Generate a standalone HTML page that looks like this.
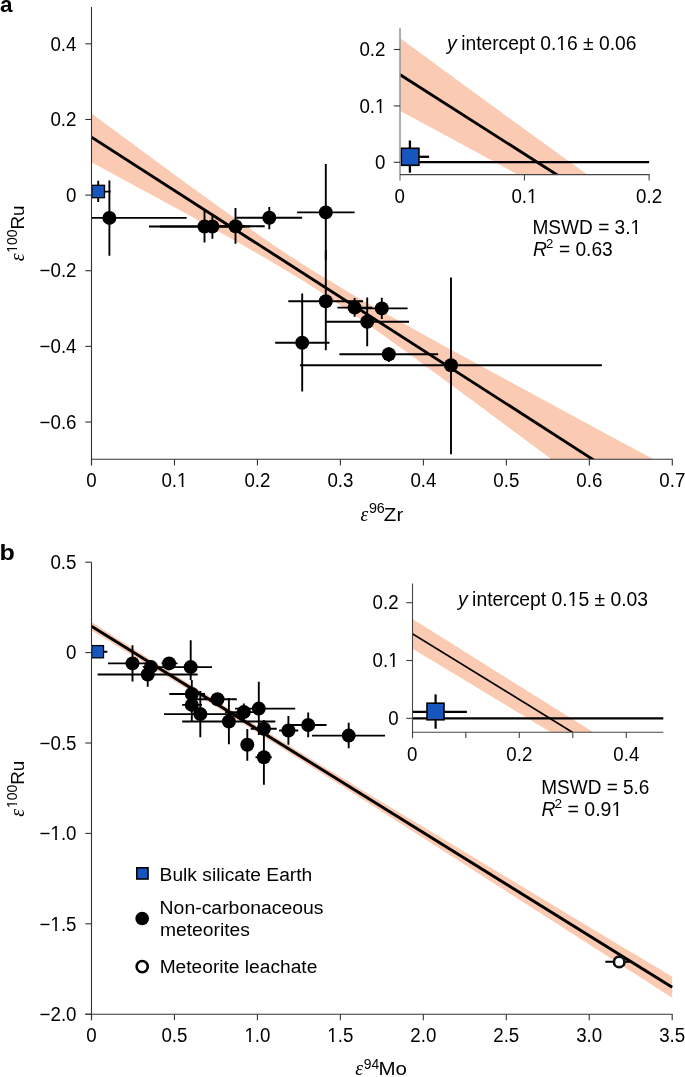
<!DOCTYPE html>
<html><head><meta charset="utf-8"><style>
html,body{margin:0;padding:0;background:#fff;width:685px;height:1077px;overflow:hidden;}
svg{display:block;will-change:transform;}
</style></head><body>
<svg width="685" height="1077" viewBox="0 0 685 1077">
<rect width="685" height="1077" fill="#fff"/>
<defs>
<clipPath id="ca"><rect x="91.5" y="7" width="580.8" height="452.3"/></clipPath>
<clipPath id="cai"><rect x="399.8" y="28" width="249.3" height="146.5"/></clipPath>
<clipPath id="cb"><rect x="91.5" y="562" width="580.7" height="451.5"/></clipPath>
<clipPath id="cbi"><rect x="412.3" y="583.5" width="251" height="148.5"/></clipPath>
</defs>
<path d="M91.50,113.40 L95.65,116.48 L99.80,119.56 L103.95,122.63 L108.09,125.71 L112.24,128.78 L116.39,131.85 L120.54,134.92 L124.69,137.99 L128.84,141.05 L132.99,144.12 L137.13,147.18 L141.28,150.24 L145.43,153.30 L149.58,156.36 L153.73,159.41 L157.88,162.46 L162.03,165.51 L166.17,168.56 L170.32,171.60 L174.47,174.64 L178.62,177.67 L182.77,180.70 L186.92,183.73 L191.07,186.75 L195.21,189.77 L199.36,192.78 L203.51,195.78 L207.66,198.78 L211.81,201.77 L215.96,204.76 L220.11,207.74 L224.25,210.71 L228.40,213.67 L232.55,216.62 L236.70,219.55 L240.85,222.48 L245.00,225.40 L249.15,228.30 L253.29,231.19 L257.44,234.06 L261.59,236.92 L265.74,239.76 L269.89,242.58 L274.04,245.38 L278.19,248.17 L282.33,250.93 L286.48,253.67 L290.63,256.39 L294.78,259.09 L298.93,261.76 L303.08,264.41 L307.23,267.04 L311.37,269.65 L315.52,272.23 L319.67,274.80 L323.82,277.34 L327.97,279.87 L332.12,282.37 L336.27,284.86 L340.41,287.33 L344.56,289.78 L348.71,292.22 L352.86,294.65 L357.01,297.06 L361.16,299.46 L365.31,301.85 L369.45,304.23 L373.60,306.60 L377.75,308.96 L381.90,311.31 L386.05,313.66 L390.20,315.99 L394.35,318.32 L398.49,320.65 L402.64,322.97 L406.79,325.28 L410.94,327.59 L415.09,329.89 L419.24,332.19 L423.39,334.49 L427.53,336.78 L431.68,339.07 L435.83,341.35 L439.98,343.64 L444.13,345.92 L448.28,348.19 L452.43,350.47 L456.57,352.74 L460.72,355.01 L464.87,357.28 L469.02,359.54 L473.17,361.81 L477.32,364.07 L481.47,366.33 L485.61,368.59 L489.76,370.85 L493.91,373.10 L498.06,375.36 L502.21,377.61 L506.36,379.87 L510.51,382.12 L514.65,384.37 L518.80,386.62 L522.95,388.87 L527.10,391.12 L531.25,393.36 L535.40,395.61 L539.55,397.85 L543.69,400.10 L547.84,402.34 L551.99,404.59 L556.14,406.83 L560.29,409.07 L564.44,411.31 L568.59,413.55 L572.73,415.79 L576.88,418.03 L581.03,420.27 L585.18,422.51 L589.33,424.75 L593.48,426.99 L597.63,429.23 L601.77,431.46 L605.92,433.70 L610.07,435.94 L614.22,438.17 L618.37,440.41 L622.52,442.64 L626.67,444.88 L630.81,447.11 L634.96,449.35 L639.11,451.58 L643.26,453.81 L647.41,456.05 L651.56,458.28 L655.71,460.51 L659.85,462.75 L664.00,464.98 L668.15,467.21 L672.30,469.44 L672.30,549.49 L668.15,546.39 L664.00,543.29 L659.85,540.19 L655.71,537.09 L651.56,533.99 L647.41,530.89 L643.26,527.79 L639.11,524.69 L634.96,521.59 L630.81,518.49 L626.67,515.39 L622.52,512.29 L618.37,509.19 L614.22,506.10 L610.07,503.00 L605.92,499.90 L601.77,496.81 L597.63,493.71 L593.48,490.61 L589.33,487.52 L585.18,484.42 L581.03,481.33 L576.88,478.23 L572.73,475.14 L568.59,472.04 L564.44,468.95 L560.29,465.86 L556.14,462.77 L551.99,459.67 L547.84,456.58 L543.69,453.49 L539.55,450.40 L535.40,447.32 L531.25,444.23 L527.10,441.14 L522.95,438.05 L518.80,434.97 L514.65,431.88 L510.51,428.80 L506.36,425.72 L502.21,422.63 L498.06,419.55 L493.91,416.47 L489.76,413.40 L485.61,410.32 L481.47,407.24 L477.32,404.17 L473.17,401.10 L469.02,398.03 L464.87,394.96 L460.72,391.89 L456.57,388.83 L452.43,385.77 L448.28,382.71 L444.13,379.65 L439.98,376.60 L435.83,373.55 L431.68,370.50 L427.53,367.45 L423.39,364.41 L419.24,361.38 L415.09,358.35 L410.94,355.32 L406.79,352.30 L402.64,349.28 L398.49,346.28 L394.35,343.27 L390.20,340.28 L386.05,337.29 L381.90,334.32 L377.75,331.35 L373.60,328.39 L369.45,325.45 L365.31,322.51 L361.16,319.59 L357.01,316.69 L352.86,313.80 L348.71,310.93 L344.56,308.08 L340.41,305.25 L336.27,302.44 L332.12,299.65 L327.97,296.89 L323.82,294.15 L319.67,291.44 L315.52,288.75 L311.37,286.08 L307.23,283.45 L303.08,280.84 L298.93,278.25 L294.78,275.69 L290.63,273.15 L286.48,270.63 L282.33,268.14 L278.19,265.66 L274.04,263.21 L269.89,260.77 L265.74,258.34 L261.59,255.93 L257.44,253.54 L253.29,251.15 L249.15,248.78 L245.00,246.42 L240.85,244.07 L236.70,241.73 L232.55,239.39 L228.40,237.06 L224.25,234.74 L220.11,232.43 L215.96,230.12 L211.81,227.82 L207.66,225.52 L203.51,223.22 L199.36,220.93 L195.21,218.65 L191.07,216.37 L186.92,214.09 L182.77,211.81 L178.62,209.54 L174.47,207.26 L170.32,205.00 L166.17,202.73 L162.03,200.47 L157.88,198.20 L153.73,195.94 L149.58,193.68 L145.43,191.43 L141.28,189.17 L137.13,186.92 L132.99,184.66 L128.84,182.41 L124.69,180.16 L120.54,177.91 L116.39,175.67 L112.24,173.42 L108.09,171.17 L103.95,168.93 L99.80,166.68 L95.65,164.44 L91.50,162.20 Z" fill="#fbcab2" clip-path="url(#ca)"/>
<g clip-path="url(#ca)">
<line x1="91.50" y1="137.20" x2="594.00" y2="460.10" stroke="#000" stroke-width="2.9" stroke-linecap="butt"/>
</g>
<g clip-path="url(#ca)">
<line x1="80.00" y1="191.60" x2="110.70" y2="191.60" stroke="#000" stroke-width="1.9" stroke-linecap="butt"/>
<line x1="98.20" y1="180.80" x2="98.20" y2="202.00" stroke="#000" stroke-width="1.9" stroke-linecap="butt"/>
<line x1="80.00" y1="217.90" x2="186.60" y2="217.90" stroke="#000" stroke-width="1.9" stroke-linecap="butt"/>
<line x1="109.40" y1="180.50" x2="109.40" y2="255.70" stroke="#000" stroke-width="1.9" stroke-linecap="butt"/>
<line x1="149.00" y1="226.50" x2="245.00" y2="226.50" stroke="#000" stroke-width="1.9" stroke-linecap="butt"/>
<line x1="204.50" y1="210.20" x2="204.50" y2="242.60" stroke="#000" stroke-width="1.9" stroke-linecap="butt"/>
<line x1="160.00" y1="226.50" x2="250.00" y2="226.50" stroke="#000" stroke-width="1.9" stroke-linecap="butt"/>
<line x1="212.40" y1="213.90" x2="212.40" y2="238.70" stroke="#000" stroke-width="1.9" stroke-linecap="butt"/>
<line x1="200.00" y1="226.30" x2="264.70" y2="226.30" stroke="#000" stroke-width="1.9" stroke-linecap="butt"/>
<line x1="235.50" y1="208.00" x2="235.50" y2="243.80" stroke="#000" stroke-width="1.9" stroke-linecap="butt"/>
<line x1="236.20" y1="217.80" x2="302.10" y2="217.80" stroke="#000" stroke-width="1.9" stroke-linecap="butt"/>
<line x1="269.30" y1="207.00" x2="269.30" y2="229.20" stroke="#000" stroke-width="1.9" stroke-linecap="butt"/>
<line x1="297.10" y1="212.40" x2="354.60" y2="212.40" stroke="#000" stroke-width="1.9" stroke-linecap="butt"/>
<line x1="325.80" y1="164.10" x2="325.80" y2="260.00" stroke="#000" stroke-width="1.9" stroke-linecap="butt"/>
<line x1="288.30" y1="301.30" x2="363.00" y2="301.30" stroke="#000" stroke-width="1.9" stroke-linecap="butt"/>
<line x1="325.80" y1="250.00" x2="325.80" y2="350.30" stroke="#000" stroke-width="1.9" stroke-linecap="butt"/>
<line x1="275.20" y1="342.80" x2="329.50" y2="342.80" stroke="#000" stroke-width="1.9" stroke-linecap="butt"/>
<line x1="302.20" y1="293.60" x2="302.20" y2="391.40" stroke="#000" stroke-width="1.9" stroke-linecap="butt"/>
<line x1="337.50" y1="307.60" x2="372.00" y2="307.60" stroke="#000" stroke-width="1.9" stroke-linecap="butt"/>
<line x1="354.60" y1="298.10" x2="354.60" y2="316.80" stroke="#000" stroke-width="1.9" stroke-linecap="butt"/>
<line x1="360.00" y1="308.40" x2="407.60" y2="308.40" stroke="#000" stroke-width="1.9" stroke-linecap="butt"/>
<line x1="381.80" y1="297.80" x2="381.80" y2="318.90" stroke="#000" stroke-width="1.9" stroke-linecap="butt"/>
<line x1="325.80" y1="321.80" x2="409.00" y2="321.80" stroke="#000" stroke-width="1.9" stroke-linecap="butt"/>
<line x1="367.20" y1="297.40" x2="367.20" y2="346.20" stroke="#000" stroke-width="1.9" stroke-linecap="butt"/>
<line x1="339.40" y1="354.30" x2="438.10" y2="354.30" stroke="#000" stroke-width="1.9" stroke-linecap="butt"/>
<line x1="388.80" y1="347.20" x2="388.80" y2="362.10" stroke="#000" stroke-width="1.9" stroke-linecap="butt"/>
<line x1="300.00" y1="365.30" x2="601.90" y2="365.30" stroke="#000" stroke-width="1.9" stroke-linecap="butt"/>
<line x1="451.00" y1="277.50" x2="451.00" y2="454.20" stroke="#000" stroke-width="1.9" stroke-linecap="butt"/>
<circle cx="109.40" cy="217.90" r="7.0" fill="#000" stroke="none" stroke-width="0"/>
<circle cx="204.50" cy="226.50" r="7.0" fill="#000" stroke="none" stroke-width="0"/>
<circle cx="212.40" cy="226.50" r="7.0" fill="#000" stroke="none" stroke-width="0"/>
<circle cx="235.50" cy="226.30" r="7.0" fill="#000" stroke="none" stroke-width="0"/>
<circle cx="269.30" cy="217.80" r="7.0" fill="#000" stroke="none" stroke-width="0"/>
<circle cx="325.80" cy="212.40" r="7.0" fill="#000" stroke="none" stroke-width="0"/>
<circle cx="325.80" cy="301.30" r="7.0" fill="#000" stroke="none" stroke-width="0"/>
<circle cx="302.20" cy="342.80" r="7.0" fill="#000" stroke="none" stroke-width="0"/>
<circle cx="354.60" cy="307.60" r="7.0" fill="#000" stroke="none" stroke-width="0"/>
<circle cx="381.80" cy="308.40" r="7.0" fill="#000" stroke="none" stroke-width="0"/>
<circle cx="367.20" cy="321.80" r="7.0" fill="#000" stroke="none" stroke-width="0"/>
<circle cx="388.80" cy="354.30" r="7.0" fill="#000" stroke="none" stroke-width="0"/>
<circle cx="451.00" cy="365.30" r="7.0" fill="#000" stroke="none" stroke-width="0"/>
</g>
<rect x="91.90" y="185.30" width="12.60" height="12.40" fill="#1756be" stroke="#000" stroke-width="1.3"/>
<line x1="91.50" y1="7.00" x2="91.50" y2="465.40" stroke="#333" stroke-width="1.1" stroke-linecap="butt"/>
<line x1="91.50" y1="459.30" x2="672.80" y2="459.30" stroke="#333" stroke-width="1.1" stroke-linecap="butt"/>
<line x1="85.30" y1="43.82" x2="91.50" y2="43.82" stroke="#333" stroke-width="1.1" stroke-linecap="butt"/>
<text x="76.50" y="50.57" font-family='"Liberation Sans", sans-serif' font-size="19.6" text-anchor="end" font-weight="normal" fill="#000" textLength="26.02" lengthAdjust="spacingAndGlyphs">0.4</text>
<line x1="85.30" y1="119.46" x2="91.50" y2="119.46" stroke="#333" stroke-width="1.1" stroke-linecap="butt"/>
<text x="76.50" y="126.21" font-family='"Liberation Sans", sans-serif' font-size="19.6" text-anchor="end" font-weight="normal" fill="#000" textLength="26.02" lengthAdjust="spacingAndGlyphs">0.2</text>
<line x1="85.30" y1="195.10" x2="91.50" y2="195.10" stroke="#333" stroke-width="1.1" stroke-linecap="butt"/>
<text x="76.50" y="201.85" font-family='"Liberation Sans", sans-serif' font-size="19.6" text-anchor="end" font-weight="normal" fill="#000" textLength="10.41" lengthAdjust="spacingAndGlyphs">0</text>
<line x1="85.30" y1="270.74" x2="91.50" y2="270.74" stroke="#333" stroke-width="1.1" stroke-linecap="butt"/>
<text x="76.50" y="277.49" font-family='"Liberation Sans", sans-serif' font-size="19.6" text-anchor="end" font-weight="normal" fill="#000" textLength="36.95" lengthAdjust="spacingAndGlyphs">−0.2</text>
<line x1="85.30" y1="346.38" x2="91.50" y2="346.38" stroke="#333" stroke-width="1.1" stroke-linecap="butt"/>
<text x="76.50" y="353.13" font-family='"Liberation Sans", sans-serif' font-size="19.6" text-anchor="end" font-weight="normal" fill="#000" textLength="36.95" lengthAdjust="spacingAndGlyphs">−0.4</text>
<line x1="85.30" y1="422.02" x2="91.50" y2="422.02" stroke="#333" stroke-width="1.1" stroke-linecap="butt"/>
<text x="76.50" y="428.77" font-family='"Liberation Sans", sans-serif' font-size="19.6" text-anchor="end" font-weight="normal" fill="#000" textLength="36.95" lengthAdjust="spacingAndGlyphs">−0.6</text>
<line x1="91.50" y1="459.30" x2="91.50" y2="465.40" stroke="#333" stroke-width="1.1" stroke-linecap="butt"/>
<text x="91.50" y="487.00" font-family='"Liberation Sans", sans-serif' font-size="19.6" text-anchor="middle" font-weight="normal" fill="#000" textLength="10.41" lengthAdjust="spacingAndGlyphs">0</text>
<line x1="174.47" y1="459.30" x2="174.47" y2="465.40" stroke="#333" stroke-width="1.1" stroke-linecap="butt"/>
<text x="174.47" y="487.00" font-family='"Liberation Sans", sans-serif' font-size="19.6" text-anchor="middle" font-weight="normal" fill="#000" textLength="26.02" lengthAdjust="spacingAndGlyphs">0.1</text>
<rect x="177.44" y="484.74" width="4.29" height="3.06" fill="#fff"/>
<rect x="183.48" y="484.74" width="4.14" height="3.06" fill="#fff"/>
<line x1="257.44" y1="459.30" x2="257.44" y2="465.40" stroke="#333" stroke-width="1.1" stroke-linecap="butt"/>
<text x="257.44" y="487.00" font-family='"Liberation Sans", sans-serif' font-size="19.6" text-anchor="middle" font-weight="normal" fill="#000" textLength="26.02" lengthAdjust="spacingAndGlyphs">0.2</text>
<line x1="340.41" y1="459.30" x2="340.41" y2="465.40" stroke="#333" stroke-width="1.1" stroke-linecap="butt"/>
<text x="340.41" y="487.00" font-family='"Liberation Sans", sans-serif' font-size="19.6" text-anchor="middle" font-weight="normal" fill="#000" textLength="26.02" lengthAdjust="spacingAndGlyphs">0.3</text>
<line x1="423.39" y1="459.30" x2="423.39" y2="465.40" stroke="#333" stroke-width="1.1" stroke-linecap="butt"/>
<text x="423.39" y="487.00" font-family='"Liberation Sans", sans-serif' font-size="19.6" text-anchor="middle" font-weight="normal" fill="#000" textLength="26.02" lengthAdjust="spacingAndGlyphs">0.4</text>
<line x1="506.36" y1="459.30" x2="506.36" y2="465.40" stroke="#333" stroke-width="1.1" stroke-linecap="butt"/>
<text x="506.36" y="487.00" font-family='"Liberation Sans", sans-serif' font-size="19.6" text-anchor="middle" font-weight="normal" fill="#000" textLength="26.02" lengthAdjust="spacingAndGlyphs">0.5</text>
<line x1="589.33" y1="459.30" x2="589.33" y2="465.40" stroke="#333" stroke-width="1.1" stroke-linecap="butt"/>
<text x="589.33" y="487.00" font-family='"Liberation Sans", sans-serif' font-size="19.6" text-anchor="middle" font-weight="normal" fill="#000" textLength="26.02" lengthAdjust="spacingAndGlyphs">0.6</text>
<line x1="672.30" y1="459.30" x2="672.30" y2="465.40" stroke="#333" stroke-width="1.1" stroke-linecap="butt"/>
<text x="672.30" y="487.00" font-family='"Liberation Sans", sans-serif' font-size="19.6" text-anchor="middle" font-weight="normal" fill="#000" textLength="26.02" lengthAdjust="spacingAndGlyphs">0.7</text>
<text x="360.48" y="521.20" font-family='"Liberation Serif", serif' font-size="20.5" font-weight="normal" font-style="italic" textLength="7.74" lengthAdjust="spacingAndGlyphs">ε</text>
<text x="368.93" y="513.40" font-family='"Liberation Sans", sans-serif' font-size="14.3" font-weight="normal" textLength="15.90" lengthAdjust="spacingAndGlyphs">96</text>
<text x="383.85" y="521.10" font-family='"Liberation Sans", sans-serif' font-size="19.2" font-weight="normal" textLength="19.39" lengthAdjust="spacingAndGlyphs">Zr</text>
<g transform="rotate(-90)">
<text x="-261.33" y="24.10" font-family='"Liberation Serif", serif' font-size="20.5" font-weight="normal" font-style="italic" textLength="7.85" lengthAdjust="spacingAndGlyphs">ε</text>
<text x="-252.74" y="16.60" font-family='"Liberation Sans", sans-serif' font-size="14.3" font-weight="normal" textLength="23.18" lengthAdjust="spacingAndGlyphs">100</text>
<rect x="-252.72" y="14.73" width="3.43" height="2.67" fill="#fff"/>
<rect x="-247.97" y="14.73" width="3.32" height="2.67" fill="#fff"/>
<text x="-229.44" y="24.10" font-family='"Liberation Sans", sans-serif' font-size="18.8" font-weight="normal" textLength="23.99" lengthAdjust="spacingAndGlyphs">Ru</text>
</g>
<text x="-0.06" y="11.80" font-family='"Liberation Sans", sans-serif' font-size="22" font-weight="bold" textLength="12.52" lengthAdjust="spacingAndGlyphs">a</text>
<path d="M399.80,37.90 L402.29,39.74 L404.79,41.57 L407.28,43.41 L409.77,45.24 L412.26,47.07 L414.76,48.91 L417.25,50.74 L419.74,52.57 L422.24,54.40 L424.73,56.24 L427.22,58.07 L429.72,59.90 L432.21,61.73 L434.70,63.56 L437.19,65.39 L439.69,67.22 L442.18,69.05 L444.67,70.88 L447.17,72.71 L449.66,74.54 L452.15,76.37 L454.65,78.19 L457.14,80.02 L459.63,81.85 L462.12,83.67 L464.62,85.50 L467.11,87.33 L469.60,89.15 L472.10,90.98 L474.59,92.80 L477.08,94.62 L479.58,96.45 L482.07,98.27 L484.56,100.09 L487.06,101.91 L489.55,103.73 L492.04,105.55 L494.53,107.37 L497.03,109.19 L499.52,111.01 L502.01,112.83 L504.51,114.65 L507.00,116.46 L509.49,118.28 L511.99,120.09 L514.48,121.91 L516.97,123.72 L519.46,125.53 L521.96,127.35 L524.45,129.16 L526.94,130.97 L529.44,132.78 L531.93,134.59 L534.42,136.40 L536.91,138.20 L539.41,140.01 L541.90,141.81 L544.39,143.62 L546.89,145.42 L549.38,147.22 L551.87,149.02 L554.37,150.82 L556.86,152.62 L559.35,154.42 L561.85,156.22 L564.34,158.01 L566.83,159.80 L569.32,161.60 L571.82,163.39 L574.31,165.18 L576.80,166.97 L579.30,168.75 L581.79,170.54 L584.28,172.32 L586.77,174.10 L589.27,175.88 L591.76,177.66 L594.25,179.44 L596.75,181.22 L599.24,182.99 L601.73,184.76 L604.23,186.53 L606.72,188.30 L609.21,190.06 L611.71,191.83 L614.20,193.59 L616.69,195.35 L619.18,197.10 L621.68,198.86 L624.17,200.61 L626.66,202.36 L629.16,204.10 L631.65,205.85 L634.14,207.59 L636.63,209.32 L639.13,211.06 L641.62,212.79 L644.11,214.52 L646.61,216.25 L649.10,217.97 L651.59,219.69 L654.09,221.40 L656.58,223.11 L659.07,224.82 L661.57,226.53 L664.06,228.23 L666.55,229.93 L669.04,231.62 L671.54,233.31 L674.03,234.99 L676.52,236.68 L679.02,238.35 L681.51,240.02 L684.00,241.69 L686.50,243.36 L688.99,245.02 L691.48,246.67 L693.97,248.32 L696.47,249.96 L698.96,251.60 L698.96,277.86 L696.47,276.33 L693.97,274.80 L691.48,273.27 L688.99,271.75 L686.50,270.24 L684.00,268.73 L681.51,267.22 L679.02,265.72 L676.52,264.22 L674.03,262.73 L671.54,261.25 L669.04,259.76 L666.55,258.29 L664.06,256.81 L661.57,255.34 L659.07,253.88 L656.58,252.41 L654.09,250.95 L651.59,249.50 L649.10,248.05 L646.61,246.60 L644.11,245.16 L641.62,243.71 L639.13,242.28 L636.63,240.84 L634.14,239.41 L631.65,237.98 L629.16,236.55 L626.66,235.13 L624.17,233.71 L621.68,232.29 L619.18,230.87 L616.69,229.46 L614.20,228.04 L611.71,226.63 L609.21,225.23 L606.72,223.82 L604.23,222.42 L601.73,221.02 L599.24,219.62 L596.75,218.22 L594.25,216.82 L591.76,215.43 L589.27,214.03 L586.77,212.64 L584.28,211.25 L581.79,209.87 L579.30,208.48 L576.80,207.09 L574.31,205.71 L571.82,204.33 L569.32,202.94 L566.83,201.56 L564.34,200.19 L561.85,198.81 L559.35,197.43 L556.86,196.06 L554.37,194.68 L551.87,193.31 L549.38,191.94 L546.89,190.56 L544.39,189.19 L541.90,187.82 L539.41,186.46 L536.91,185.09 L534.42,183.72 L531.93,182.35 L529.44,180.99 L526.94,179.62 L524.45,178.26 L521.96,176.90 L519.46,175.53 L516.97,174.17 L514.48,172.81 L511.99,171.45 L509.49,170.09 L507.00,168.73 L504.51,167.37 L502.01,166.02 L499.52,164.66 L497.03,163.30 L494.53,161.95 L492.04,160.59 L489.55,159.23 L487.06,157.88 L484.56,156.53 L482.07,155.17 L479.58,153.82 L477.08,152.47 L474.59,151.11 L472.10,149.76 L469.60,148.41 L467.11,147.06 L464.62,145.71 L462.12,144.36 L459.63,143.01 L457.14,141.66 L454.65,140.31 L452.15,138.96 L449.66,137.61 L447.17,136.26 L444.67,134.91 L442.18,133.57 L439.69,132.22 L437.19,130.87 L434.70,129.52 L432.21,128.18 L429.72,126.83 L427.22,125.49 L424.73,124.14 L422.24,122.80 L419.74,121.45 L417.25,120.11 L414.76,118.76 L412.26,117.42 L409.77,116.07 L407.28,114.73 L404.79,113.39 L402.29,112.04 L399.80,110.70 Z" fill="#fbcab2" clip-path="url(#cai)"/>
<g clip-path="url(#cai)">
<line x1="399.80" y1="74.54" x2="574.31" y2="185.88" stroke="#000" stroke-width="2.9" stroke-linecap="butt"/>
</g>
<line x1="401.00" y1="162.20" x2="649.10" y2="162.20" stroke="#000" stroke-width="2.3" stroke-linecap="butt"/>
<line x1="400.50" y1="156.80" x2="429.10" y2="156.80" stroke="#000" stroke-width="2.3" stroke-linecap="butt"/>
<line x1="409.90" y1="140.50" x2="409.90" y2="172.70" stroke="#000" stroke-width="2.3" stroke-linecap="butt"/>
<rect x="401.30" y="148.30" width="17.60" height="17.00" fill="#1756be" stroke="#000" stroke-width="1.6"/>
<line x1="400.00" y1="28.00" x2="400.00" y2="180.70" stroke="#959595" stroke-width="1.5" stroke-linecap="butt"/>
<line x1="400.00" y1="174.60" x2="649.60" y2="174.60" stroke="#444" stroke-width="1.1" stroke-linecap="butt"/>
<line x1="393.80" y1="49.50" x2="400.00" y2="49.50" stroke="#333" stroke-width="1.1" stroke-linecap="butt"/>
<text x="385.50" y="56.25" font-family='"Liberation Sans", sans-serif' font-size="19.6" text-anchor="end" font-weight="normal" fill="#000" textLength="26.02" lengthAdjust="spacingAndGlyphs">0.2</text>
<line x1="393.80" y1="105.90" x2="400.00" y2="105.90" stroke="#333" stroke-width="1.1" stroke-linecap="butt"/>
<text x="385.50" y="112.65" font-family='"Liberation Sans", sans-serif' font-size="19.6" text-anchor="end" font-weight="normal" fill="#000" textLength="26.02" lengthAdjust="spacingAndGlyphs">0.1</text>
<rect x="375.46" y="110.39" width="4.29" height="3.06" fill="#fff"/>
<rect x="381.50" y="110.39" width="4.14" height="3.06" fill="#fff"/>
<line x1="393.80" y1="162.30" x2="400.00" y2="162.30" stroke="#333" stroke-width="1.1" stroke-linecap="butt"/>
<text x="385.50" y="169.05" font-family='"Liberation Sans", sans-serif' font-size="19.6" text-anchor="end" font-weight="normal" fill="#000" textLength="10.41" lengthAdjust="spacingAndGlyphs">0</text>
<text x="399.80" y="202.80" font-family='"Liberation Sans", sans-serif' font-size="19.6" text-anchor="middle" font-weight="normal" fill="#000" textLength="10.41" lengthAdjust="spacingAndGlyphs">0</text>
<line x1="524.45" y1="174.60" x2="524.45" y2="180.60" stroke="#444" stroke-width="1.1" stroke-linecap="butt"/>
<text x="524.45" y="202.80" font-family='"Liberation Sans", sans-serif' font-size="19.6" text-anchor="middle" font-weight="normal" fill="#000" textLength="26.02" lengthAdjust="spacingAndGlyphs">0.1</text>
<rect x="527.42" y="200.54" width="4.29" height="3.06" fill="#fff"/>
<rect x="533.46" y="200.54" width="4.14" height="3.06" fill="#fff"/>
<line x1="649.10" y1="174.60" x2="649.10" y2="180.60" stroke="#444" stroke-width="1.1" stroke-linecap="butt"/>
<text x="649.10" y="202.80" font-family='"Liberation Sans", sans-serif' font-size="19.6" text-anchor="middle" font-weight="normal" fill="#000" textLength="26.02" lengthAdjust="spacingAndGlyphs">0.2</text>
<text x="447.00" y="49.60" font-family='"Liberation Sans", sans-serif' font-size="19.4" font-weight="normal" font-style="italic">y</text>
<text x="461.21" y="49.60" font-family='"Liberation Sans", sans-serif' font-size="19.4" font-weight="normal" textLength="175.23" lengthAdjust="spacingAndGlyphs">intercept 0.16 ± 0.06</text>
<rect x="556.78" y="47.35" width="4.38" height="3.05" fill="#fff"/>
<rect x="562.96" y="47.35" width="4.23" height="3.05" fill="#fff"/>
<text x="532.43" y="233.60" font-family='"Liberation Sans", sans-serif' font-size="19.3" font-weight="normal" textLength="108.69" lengthAdjust="spacingAndGlyphs">MSWD = 3.1</text>
<rect x="630.91" y="231.36" width="4.35" height="3.04" fill="#fff"/>
<rect x="637.05" y="231.36" width="4.20" height="3.04" fill="#fff"/>
<text x="532.91" y="255.50" font-family='"Liberation Sans", sans-serif' font-size="19.3" font-weight="normal" font-style="italic">R</text>
<text x="546.04" y="247.60" font-family='"Liberation Sans", sans-serif' font-size="13.0" font-weight="normal" textLength="7.32" lengthAdjust="spacingAndGlyphs">2</text>
<text x="558.96" y="255.50" font-family='"Liberation Sans", sans-serif' font-size="19.3" font-weight="normal" textLength="53.78" lengthAdjust="spacingAndGlyphs">= 0.63</text>
<path d="M91.50,622.10 L95.65,624.74 L99.80,627.37 L103.94,630.01 L108.09,632.64 L112.24,635.28 L116.39,637.91 L120.53,640.54 L124.68,643.16 L128.83,645.79 L132.98,648.42 L137.13,651.04 L141.27,653.66 L145.42,656.28 L149.57,658.90 L153.72,661.51 L157.87,664.13 L162.01,666.74 L166.16,669.35 L170.31,671.96 L174.46,674.56 L178.61,677.16 L182.75,679.76 L186.90,682.36 L191.05,684.96 L195.20,687.55 L199.34,690.14 L203.49,692.73 L207.64,695.31 L211.79,697.90 L215.94,700.48 L220.08,703.05 L224.23,705.63 L228.38,708.20 L232.53,710.77 L236.68,713.34 L240.82,715.90 L244.97,718.47 L249.12,721.03 L253.27,723.58 L257.41,726.14 L261.56,728.69 L265.71,731.24 L269.86,733.79 L274.01,736.34 L278.15,738.88 L282.30,741.42 L286.45,743.96 L290.60,746.50 L294.75,749.04 L298.89,751.57 L303.04,754.10 L307.19,756.63 L311.34,759.16 L315.48,761.69 L319.63,764.22 L323.78,766.74 L327.93,769.27 L332.08,771.79 L336.22,774.31 L340.37,776.83 L344.52,779.35 L348.67,781.87 L352.82,784.38 L356.96,786.90 L361.11,789.41 L365.26,791.93 L369.41,794.44 L373.55,796.95 L377.70,799.46 L381.85,801.97 L386.00,804.48 L390.15,806.99 L394.29,809.50 L398.44,812.01 L402.59,814.51 L406.74,817.02 L410.89,819.53 L415.03,822.03 L419.18,824.54 L423.33,827.04 L427.48,829.55 L431.62,832.05 L435.77,834.55 L439.92,837.05 L444.07,839.56 L448.22,842.06 L452.36,844.56 L456.51,847.06 L460.66,849.56 L464.81,852.06 L468.95,854.56 L473.10,857.06 L477.25,859.56 L481.40,862.06 L485.55,864.55 L489.69,867.05 L493.84,869.55 L497.99,872.05 L502.14,874.55 L506.29,877.04 L510.43,879.54 L514.58,882.04 L518.73,884.53 L522.88,887.03 L527.03,889.53 L531.17,892.02 L535.32,894.52 L539.47,897.01 L543.62,899.51 L547.76,902.00 L551.91,904.50 L556.06,906.99 L560.21,909.49 L564.36,911.98 L568.50,914.48 L572.65,916.97 L576.80,919.47 L580.95,921.96 L585.10,924.45 L589.24,926.95 L593.39,929.44 L597.54,931.94 L601.69,934.43 L605.83,936.92 L609.98,939.41 L614.13,941.91 L618.28,944.40 L622.43,946.89 L626.57,949.39 L630.72,951.88 L634.87,954.37 L639.02,956.86 L643.17,959.36 L647.31,961.85 L651.46,964.34 L655.61,966.83 L659.76,969.33 L663.90,971.82 L668.05,974.31 L672.20,976.80 L672.20,997.80 L668.05,995.13 L663.90,992.47 L659.76,989.80 L655.61,987.14 L651.46,984.47 L647.31,981.81 L643.17,979.14 L639.02,976.48 L634.87,973.81 L630.72,971.15 L626.57,968.48 L622.43,965.82 L618.28,963.16 L614.13,960.49 L609.98,957.83 L605.83,955.16 L601.69,952.50 L597.54,949.84 L593.39,947.17 L589.24,944.51 L585.10,941.85 L580.95,939.18 L576.80,936.52 L572.65,933.86 L568.50,931.19 L564.36,928.53 L560.21,925.87 L556.06,923.21 L551.91,920.54 L547.76,917.88 L543.62,915.22 L539.47,912.56 L535.32,909.90 L531.17,907.23 L527.03,904.57 L522.88,901.91 L518.73,899.25 L514.58,896.59 L510.43,893.93 L506.29,891.27 L502.14,888.61 L497.99,885.95 L493.84,883.29 L489.69,880.63 L485.55,877.97 L481.40,875.31 L477.25,872.66 L473.10,870.00 L468.95,867.34 L464.81,864.68 L460.66,862.03 L456.51,859.37 L452.36,856.71 L448.22,854.06 L444.07,851.40 L439.92,848.75 L435.77,846.09 L431.62,843.44 L427.48,840.78 L423.33,838.13 L419.18,835.48 L415.03,832.82 L410.89,830.17 L406.74,827.52 L402.59,824.87 L398.44,822.22 L394.29,819.57 L390.15,816.92 L386.00,814.27 L381.85,811.63 L377.70,808.98 L373.55,806.33 L369.41,803.69 L365.26,801.04 L361.11,798.40 L356.96,795.76 L352.82,793.12 L348.67,790.48 L344.52,787.84 L340.37,785.20 L336.22,782.56 L332.08,779.93 L327.93,777.29 L323.78,774.66 L319.63,772.03 L315.48,769.39 L311.34,766.77 L307.19,764.14 L303.04,761.51 L298.89,758.89 L294.75,756.26 L290.60,753.64 L286.45,751.02 L282.30,748.41 L278.15,745.79 L274.01,743.18 L269.86,740.57 L265.71,737.96 L261.56,735.35 L257.41,732.75 L253.27,730.15 L249.12,727.55 L244.97,724.95 L240.82,722.35 L236.68,719.76 L232.53,717.17 L228.38,714.58 L224.23,712.00 L220.08,709.42 L215.94,706.84 L211.79,704.26 L207.64,701.69 L203.49,699.11 L199.34,696.54 L195.20,693.98 L191.05,691.41 L186.90,688.85 L182.75,686.29 L178.61,683.74 L174.46,681.18 L170.31,678.63 L166.16,676.08 L162.01,673.53 L157.87,670.99 L153.72,668.44 L149.57,665.90 L145.42,663.36 L141.27,660.83 L137.13,658.29 L132.98,655.76 L128.83,653.22 L124.68,650.69 L120.53,648.16 L116.39,645.64 L112.24,643.11 L108.09,640.59 L103.94,638.06 L99.80,635.54 L95.65,633.02 L91.50,630.50 Z" fill="#fbcab2"/>
<line x1="91.50" y1="626.30" x2="672.20" y2="987.30" stroke="#000" stroke-width="2.9" stroke-linecap="butt"/>
<g clip-path="url(#cb)">
<line x1="80.00" y1="651.70" x2="107.40" y2="651.70" stroke="#000" stroke-width="1.9" stroke-linecap="butt"/>
<line x1="108.00" y1="663.40" x2="146.00" y2="663.40" stroke="#000" stroke-width="1.9" stroke-linecap="butt"/>
<line x1="132.50" y1="645.30" x2="132.50" y2="681.50" stroke="#000" stroke-width="1.9" stroke-linecap="butt"/>
<line x1="142.80" y1="666.90" x2="158.00" y2="666.90" stroke="#000" stroke-width="1.9" stroke-linecap="butt"/>
<line x1="150.90" y1="660.40" x2="150.90" y2="672.00" stroke="#000" stroke-width="1.9" stroke-linecap="butt"/>
<line x1="97.60" y1="674.50" x2="197.70" y2="674.50" stroke="#000" stroke-width="1.9" stroke-linecap="butt"/>
<line x1="147.70" y1="668.00" x2="147.70" y2="686.70" stroke="#000" stroke-width="1.9" stroke-linecap="butt"/>
<line x1="161.50" y1="663.40" x2="177.50" y2="663.40" stroke="#000" stroke-width="1.9" stroke-linecap="butt"/>
<line x1="158.00" y1="667.10" x2="212.00" y2="667.10" stroke="#000" stroke-width="1.9" stroke-linecap="butt"/>
<line x1="190.70" y1="640.30" x2="190.70" y2="680.00" stroke="#000" stroke-width="1.9" stroke-linecap="butt"/>
<line x1="169.30" y1="694.00" x2="205.00" y2="694.00" stroke="#000" stroke-width="1.9" stroke-linecap="butt"/>
<line x1="191.80" y1="680.00" x2="191.80" y2="700.00" stroke="#000" stroke-width="1.9" stroke-linecap="butt"/>
<line x1="182.20" y1="704.90" x2="202.00" y2="704.90" stroke="#000" stroke-width="1.9" stroke-linecap="butt"/>
<line x1="191.80" y1="698.00" x2="191.80" y2="720.90" stroke="#000" stroke-width="1.9" stroke-linecap="butt"/>
<line x1="164.10" y1="714.10" x2="245.00" y2="714.10" stroke="#000" stroke-width="1.9" stroke-linecap="butt"/>
<line x1="200.30" y1="691.10" x2="200.30" y2="737.20" stroke="#000" stroke-width="1.9" stroke-linecap="butt"/>
<line x1="195.00" y1="699.30" x2="236.80" y2="699.30" stroke="#000" stroke-width="1.9" stroke-linecap="butt"/>
<line x1="182.20" y1="721.50" x2="275.30" y2="721.50" stroke="#000" stroke-width="1.9" stroke-linecap="butt"/>
<line x1="228.90" y1="698.10" x2="228.90" y2="744.20" stroke="#000" stroke-width="1.9" stroke-linecap="butt"/>
<line x1="225.00" y1="712.10" x2="262.00" y2="712.10" stroke="#000" stroke-width="1.9" stroke-linecap="butt"/>
<line x1="243.80" y1="703.60" x2="243.80" y2="720.00" stroke="#000" stroke-width="1.9" stroke-linecap="butt"/>
<line x1="235.00" y1="708.60" x2="295.20" y2="708.60" stroke="#000" stroke-width="1.9" stroke-linecap="butt"/>
<line x1="258.80" y1="681.80" x2="258.80" y2="735.10" stroke="#000" stroke-width="1.9" stroke-linecap="butt"/>
<line x1="250.80" y1="728.70" x2="276.70" y2="728.70" stroke="#000" stroke-width="1.9" stroke-linecap="butt"/>
<line x1="263.90" y1="720.00" x2="263.90" y2="740.00" stroke="#000" stroke-width="1.9" stroke-linecap="butt"/>
<line x1="247.30" y1="729.00" x2="247.30" y2="760.80" stroke="#000" stroke-width="1.9" stroke-linecap="butt"/>
<line x1="255.50" y1="757.30" x2="271.80" y2="757.30" stroke="#000" stroke-width="1.9" stroke-linecap="butt"/>
<line x1="263.90" y1="740.00" x2="263.90" y2="784.80" stroke="#000" stroke-width="1.9" stroke-linecap="butt"/>
<line x1="279.10" y1="730.50" x2="298.30" y2="730.50" stroke="#000" stroke-width="1.9" stroke-linecap="butt"/>
<line x1="288.40" y1="715.90" x2="288.40" y2="744.80" stroke="#000" stroke-width="1.9" stroke-linecap="butt"/>
<line x1="290.70" y1="725.00" x2="326.60" y2="725.00" stroke="#000" stroke-width="1.9" stroke-linecap="butt"/>
<line x1="308.20" y1="712.60" x2="308.20" y2="737.30" stroke="#000" stroke-width="1.9" stroke-linecap="butt"/>
<line x1="311.90" y1="735.60" x2="385.00" y2="735.60" stroke="#000" stroke-width="1.9" stroke-linecap="butt"/>
<line x1="348.70" y1="722.80" x2="348.70" y2="748.20" stroke="#000" stroke-width="1.9" stroke-linecap="butt"/>
<circle cx="132.50" cy="663.40" r="7.0" fill="#000" stroke="none" stroke-width="0"/>
<circle cx="150.90" cy="666.90" r="7.0" fill="#000" stroke="none" stroke-width="0"/>
<circle cx="147.70" cy="674.50" r="7.0" fill="#000" stroke="none" stroke-width="0"/>
<circle cx="169.10" cy="663.40" r="7.0" fill="#000" stroke="none" stroke-width="0"/>
<circle cx="190.70" cy="667.10" r="7.0" fill="#000" stroke="none" stroke-width="0"/>
<circle cx="191.80" cy="694.00" r="7.0" fill="#000" stroke="none" stroke-width="0"/>
<circle cx="191.80" cy="704.90" r="7.0" fill="#000" stroke="none" stroke-width="0"/>
<circle cx="200.30" cy="714.10" r="7.0" fill="#000" stroke="none" stroke-width="0"/>
<circle cx="217.50" cy="699.30" r="7.0" fill="#000" stroke="none" stroke-width="0"/>
<circle cx="228.90" cy="721.50" r="7.0" fill="#000" stroke="none" stroke-width="0"/>
<circle cx="243.80" cy="712.10" r="7.0" fill="#000" stroke="none" stroke-width="0"/>
<circle cx="258.80" cy="708.60" r="7.0" fill="#000" stroke="none" stroke-width="0"/>
<circle cx="263.90" cy="728.70" r="7.0" fill="#000" stroke="none" stroke-width="0"/>
<circle cx="247.30" cy="744.80" r="7.0" fill="#000" stroke="none" stroke-width="0"/>
<circle cx="263.90" cy="757.30" r="7.0" fill="#000" stroke="none" stroke-width="0"/>
<circle cx="288.40" cy="730.50" r="7.0" fill="#000" stroke="none" stroke-width="0"/>
<circle cx="308.20" cy="725.00" r="7.0" fill="#000" stroke="none" stroke-width="0"/>
<circle cx="348.70" cy="735.60" r="7.0" fill="#000" stroke="none" stroke-width="0"/>
<line x1="605.30" y1="961.80" x2="630.30" y2="961.80" stroke="#000" stroke-width="1.9" stroke-linecap="butt"/>
<circle cx="619.20" cy="961.90" r="5.3" fill="#fff" stroke="#111" stroke-width="2.7"/>
</g>
<rect x="91.70" y="645.60" width="11.80" height="12.20" fill="#1756be" stroke="#000" stroke-width="1.3"/>
<line x1="91.50" y1="562.20" x2="91.50" y2="1020.20" stroke="#333" stroke-width="1.1" stroke-linecap="butt"/>
<line x1="85.30" y1="1014.30" x2="672.70" y2="1014.30" stroke="#333" stroke-width="1.1" stroke-linecap="butt"/>
<line x1="85.30" y1="562.20" x2="91.50" y2="562.20" stroke="#333" stroke-width="1.1" stroke-linecap="butt"/>
<text x="76.50" y="568.95" font-family='"Liberation Sans", sans-serif' font-size="19.6" text-anchor="end" font-weight="normal" fill="#000" textLength="26.02" lengthAdjust="spacingAndGlyphs">0.5</text>
<line x1="85.30" y1="652.60" x2="91.50" y2="652.60" stroke="#333" stroke-width="1.1" stroke-linecap="butt"/>
<text x="76.50" y="659.35" font-family='"Liberation Sans", sans-serif' font-size="19.6" text-anchor="end" font-weight="normal" fill="#000" textLength="10.41" lengthAdjust="spacingAndGlyphs">0</text>
<line x1="85.30" y1="743.00" x2="91.50" y2="743.00" stroke="#333" stroke-width="1.1" stroke-linecap="butt"/>
<text x="76.50" y="749.75" font-family='"Liberation Sans", sans-serif' font-size="19.6" text-anchor="end" font-weight="normal" fill="#000" textLength="36.95" lengthAdjust="spacingAndGlyphs">−0.5</text>
<line x1="85.30" y1="833.40" x2="91.50" y2="833.40" stroke="#333" stroke-width="1.1" stroke-linecap="butt"/>
<text x="76.50" y="840.15" font-family='"Liberation Sans", sans-serif' font-size="19.6" text-anchor="end" font-weight="normal" fill="#000" textLength="36.95" lengthAdjust="spacingAndGlyphs">−1.0</text>
<rect x="50.85" y="837.89" width="4.29" height="3.06" fill="#fff"/>
<rect x="56.89" y="837.89" width="4.14" height="3.06" fill="#fff"/>
<line x1="85.30" y1="923.80" x2="91.50" y2="923.80" stroke="#333" stroke-width="1.1" stroke-linecap="butt"/>
<text x="76.50" y="930.55" font-family='"Liberation Sans", sans-serif' font-size="19.6" text-anchor="end" font-weight="normal" fill="#000" textLength="36.95" lengthAdjust="spacingAndGlyphs">−1.5</text>
<rect x="50.85" y="928.29" width="4.29" height="3.06" fill="#fff"/>
<rect x="56.89" y="928.29" width="4.14" height="3.06" fill="#fff"/>
<line x1="85.30" y1="1014.20" x2="91.50" y2="1014.20" stroke="#333" stroke-width="1.1" stroke-linecap="butt"/>
<text x="76.50" y="1020.95" font-family='"Liberation Sans", sans-serif' font-size="19.6" text-anchor="end" font-weight="normal" fill="#000" textLength="36.95" lengthAdjust="spacingAndGlyphs">−2.0</text>
<line x1="91.50" y1="1014.30" x2="91.50" y2="1020.20" stroke="#333" stroke-width="1.1" stroke-linecap="butt"/>
<text x="91.50" y="1041.80" font-family='"Liberation Sans", sans-serif' font-size="19.6" text-anchor="middle" font-weight="normal" fill="#000" textLength="10.41" lengthAdjust="spacingAndGlyphs">0</text>
<line x1="174.46" y1="1014.30" x2="174.46" y2="1020.20" stroke="#333" stroke-width="1.1" stroke-linecap="butt"/>
<text x="174.46" y="1041.80" font-family='"Liberation Sans", sans-serif' font-size="19.6" text-anchor="middle" font-weight="normal" fill="#000" textLength="26.02" lengthAdjust="spacingAndGlyphs">0.5</text>
<line x1="257.41" y1="1014.30" x2="257.41" y2="1020.20" stroke="#333" stroke-width="1.1" stroke-linecap="butt"/>
<text x="257.41" y="1041.80" font-family='"Liberation Sans", sans-serif' font-size="19.6" text-anchor="middle" font-weight="normal" fill="#000" textLength="26.02" lengthAdjust="spacingAndGlyphs">1.0</text>
<rect x="244.77" y="1039.54" width="4.29" height="3.06" fill="#fff"/>
<rect x="250.82" y="1039.54" width="4.14" height="3.06" fill="#fff"/>
<line x1="340.37" y1="1014.30" x2="340.37" y2="1020.20" stroke="#333" stroke-width="1.1" stroke-linecap="butt"/>
<text x="340.37" y="1041.80" font-family='"Liberation Sans", sans-serif' font-size="19.6" text-anchor="middle" font-weight="normal" fill="#000" textLength="26.02" lengthAdjust="spacingAndGlyphs">1.5</text>
<rect x="327.73" y="1039.54" width="4.29" height="3.06" fill="#fff"/>
<rect x="333.77" y="1039.54" width="4.14" height="3.06" fill="#fff"/>
<line x1="423.33" y1="1014.30" x2="423.33" y2="1020.20" stroke="#333" stroke-width="1.1" stroke-linecap="butt"/>
<text x="423.33" y="1041.80" font-family='"Liberation Sans", sans-serif' font-size="19.6" text-anchor="middle" font-weight="normal" fill="#000" textLength="26.02" lengthAdjust="spacingAndGlyphs">2.0</text>
<line x1="506.29" y1="1014.30" x2="506.29" y2="1020.20" stroke="#333" stroke-width="1.1" stroke-linecap="butt"/>
<text x="506.29" y="1041.80" font-family='"Liberation Sans", sans-serif' font-size="19.6" text-anchor="middle" font-weight="normal" fill="#000" textLength="26.02" lengthAdjust="spacingAndGlyphs">2.5</text>
<line x1="589.24" y1="1014.30" x2="589.24" y2="1020.20" stroke="#333" stroke-width="1.1" stroke-linecap="butt"/>
<text x="589.24" y="1041.80" font-family='"Liberation Sans", sans-serif' font-size="19.6" text-anchor="middle" font-weight="normal" fill="#000" textLength="26.02" lengthAdjust="spacingAndGlyphs">3.0</text>
<line x1="672.20" y1="1014.30" x2="672.20" y2="1020.20" stroke="#333" stroke-width="1.1" stroke-linecap="butt"/>
<text x="672.20" y="1041.80" font-family='"Liberation Sans", sans-serif' font-size="19.6" text-anchor="middle" font-weight="normal" fill="#000" textLength="26.02" lengthAdjust="spacingAndGlyphs">3.5</text>
<text x="355.27" y="1075.40" font-family='"Liberation Serif", serif' font-size="20.5" font-weight="normal" font-style="italic" textLength="7.85" lengthAdjust="spacingAndGlyphs">ε</text>
<text x="363.85" y="1068.70" font-family='"Liberation Sans", sans-serif' font-size="14.3" font-weight="normal" textLength="15.46" lengthAdjust="spacingAndGlyphs">94</text>
<text x="378.52" y="1075.40" font-family='"Liberation Sans", sans-serif' font-size="19.0" font-weight="normal" textLength="28.44" lengthAdjust="spacingAndGlyphs">Mo</text>
<g transform="rotate(-90)">
<text x="-816.63" y="24.20" font-family='"Liberation Serif", serif' font-size="20.5" font-weight="normal" font-style="italic" textLength="7.85" lengthAdjust="spacingAndGlyphs">ε</text>
<text x="-808.04" y="16.70" font-family='"Liberation Sans", sans-serif' font-size="14.3" font-weight="normal" textLength="23.18" lengthAdjust="spacingAndGlyphs">100</text>
<rect x="-808.02" y="14.83" width="3.43" height="2.67" fill="#fff"/>
<rect x="-803.27" y="14.83" width="3.32" height="2.67" fill="#fff"/>
<text x="-784.74" y="24.20" font-family='"Liberation Sans", sans-serif' font-size="18.8" font-weight="normal" textLength="23.99" lengthAdjust="spacingAndGlyphs">Ru</text>
</g>
<text x="-0.60" y="559.60" font-family='"Liberation Sans", sans-serif' font-size="22" font-weight="bold" textLength="15.33" lengthAdjust="spacingAndGlyphs">b</text>
<path d="M412.30,618.76 L414.98,620.45 L417.65,622.13 L420.32,623.81 L423.00,625.49 L425.68,627.17 L428.35,628.85 L431.03,630.53 L433.70,632.21 L436.38,633.89 L439.05,635.57 L441.73,637.25 L444.40,638.93 L447.07,640.61 L449.75,642.29 L452.43,643.97 L455.10,645.65 L457.78,647.33 L460.45,649.01 L463.12,650.69 L465.80,652.37 L468.48,654.05 L471.15,655.72 L473.83,657.40 L476.50,659.08 L479.18,660.76 L481.85,662.43 L484.53,664.11 L487.20,665.79 L489.88,667.47 L492.55,669.14 L495.23,670.82 L497.90,672.50 L500.58,674.17 L503.25,675.85 L505.93,677.52 L508.60,679.20 L511.27,680.88 L513.95,682.55 L516.62,684.23 L519.30,685.90 L521.98,687.58 L524.65,689.25 L527.33,690.92 L530.00,692.60 L532.67,694.27 L535.35,695.95 L538.02,697.62 L540.70,699.29 L543.38,700.97 L546.05,702.64 L548.73,704.31 L551.40,705.98 L554.08,707.66 L556.75,709.33 L559.42,711.00 L562.10,712.67 L564.78,714.34 L567.45,716.02 L570.12,717.69 L572.80,719.36 L575.48,721.03 L578.15,722.70 L580.83,724.37 L583.50,726.04 L586.17,727.71 L588.85,729.38 L591.53,731.05 L594.20,732.72 L596.88,734.38 L599.55,736.05 L602.23,737.72 L604.90,739.39 L607.58,741.06 L610.25,742.73 L612.92,744.39 L615.60,746.06 L618.27,747.73 L620.95,749.39 L623.62,751.06 L626.30,752.73 L628.98,754.39 L631.65,756.06 L634.33,757.72 L637.00,759.39 L639.67,761.05 L642.35,762.72 L645.02,764.38 L647.70,766.05 L650.38,767.71 L653.05,769.38 L655.73,771.04 L658.40,772.70 L661.08,774.37 L663.75,776.03 L666.43,777.69 L669.10,779.35 L671.77,781.02 L674.45,782.68 L677.12,784.34 L679.80,786.00 L679.80,810.82 L677.12,809.19 L674.45,807.55 L671.77,805.92 L669.10,804.29 L666.43,802.66 L663.75,801.03 L661.08,799.39 L658.40,797.76 L655.73,796.13 L653.05,794.50 L650.38,792.87 L647.70,791.24 L645.02,789.61 L642.35,787.98 L639.67,786.35 L637.00,784.72 L634.33,783.09 L631.65,781.46 L628.98,779.83 L626.30,778.20 L623.62,776.57 L620.95,774.95 L618.27,773.32 L615.60,771.69 L612.92,770.06 L610.25,768.44 L607.58,766.81 L604.90,765.18 L602.23,763.56 L599.55,761.93 L596.88,760.30 L594.20,758.68 L591.53,757.05 L588.85,755.43 L586.17,753.80 L583.50,752.18 L580.83,750.55 L578.15,748.93 L575.48,747.30 L572.80,745.68 L570.12,744.06 L567.45,742.43 L564.78,740.81 L562.10,739.19 L559.42,737.56 L556.75,735.94 L554.08,734.32 L551.40,732.70 L548.73,731.07 L546.05,729.45 L543.38,727.83 L540.70,726.21 L538.02,724.59 L535.35,722.97 L532.67,721.35 L530.00,719.73 L527.33,718.11 L524.65,716.48 L521.98,714.86 L519.30,713.24 L516.62,711.63 L513.95,710.01 L511.27,708.39 L508.60,706.77 L505.93,705.15 L503.25,703.53 L500.58,701.91 L497.90,700.29 L495.23,698.67 L492.55,697.06 L489.88,695.44 L487.20,693.82 L484.53,692.20 L481.85,690.59 L479.18,688.97 L476.50,687.35 L473.83,685.74 L471.15,684.12 L468.48,682.50 L465.80,680.89 L463.12,679.27 L460.45,677.65 L457.78,676.04 L455.10,674.42 L452.43,672.81 L449.75,671.19 L447.07,669.58 L444.40,667.96 L441.73,666.35 L439.05,664.73 L436.38,663.12 L433.70,661.51 L431.03,659.89 L428.35,658.28 L425.68,656.66 L423.00,655.05 L420.32,653.44 L417.65,651.82 L414.98,650.21 L412.30,648.60 Z" fill="#fbcab2" clip-path="url(#cbi)"/>
<g clip-path="url(#cbi)">
<line x1="412.30" y1="633.68" x2="626.30" y2="765.46" stroke="#000" stroke-width="1.7" stroke-linecap="butt"/>
</g>
<line x1="412.30" y1="718.30" x2="663.30" y2="718.30" stroke="#000" stroke-width="2.2" stroke-linecap="butt"/>
<line x1="412.30" y1="711.80" x2="466.90" y2="711.80" stroke="#000" stroke-width="2.2" stroke-linecap="butt"/>
<line x1="435.60" y1="694.40" x2="435.60" y2="728.70" stroke="#000" stroke-width="2.2" stroke-linecap="butt"/>
<rect x="427.00" y="703.20" width="17.00" height="16.60" fill="#1756be" stroke="#000" stroke-width="1.6"/>
<line x1="412.50" y1="583.50" x2="412.50" y2="738.20" stroke="#444" stroke-width="1.1" stroke-linecap="butt"/>
<line x1="412.50" y1="732.30" x2="663.30" y2="732.30" stroke="#444" stroke-width="1.1" stroke-linecap="butt"/>
<line x1="406.20" y1="602.70" x2="412.50" y2="602.70" stroke="#444" stroke-width="1.1" stroke-linecap="butt"/>
<text x="398.60" y="609.45" font-family='"Liberation Sans", sans-serif' font-size="19.6" text-anchor="end" font-weight="normal" fill="#000" textLength="26.02" lengthAdjust="spacingAndGlyphs">0.2</text>
<line x1="406.20" y1="660.50" x2="412.50" y2="660.50" stroke="#444" stroke-width="1.1" stroke-linecap="butt"/>
<text x="398.60" y="667.25" font-family='"Liberation Sans", sans-serif' font-size="19.6" text-anchor="end" font-weight="normal" fill="#000" textLength="26.02" lengthAdjust="spacingAndGlyphs">0.1</text>
<rect x="388.56" y="664.99" width="4.29" height="3.06" fill="#fff"/>
<rect x="394.60" y="664.99" width="4.14" height="3.06" fill="#fff"/>
<line x1="406.20" y1="718.30" x2="412.50" y2="718.30" stroke="#444" stroke-width="1.1" stroke-linecap="butt"/>
<text x="398.60" y="725.05" font-family='"Liberation Sans", sans-serif' font-size="19.6" text-anchor="end" font-weight="normal" fill="#000" textLength="10.41" lengthAdjust="spacingAndGlyphs">0</text>
<text x="412.30" y="761.10" font-family='"Liberation Sans", sans-serif' font-size="19.6" text-anchor="middle" font-weight="normal" fill="#000" textLength="10.41" lengthAdjust="spacingAndGlyphs">0</text>
<line x1="465.80" y1="732.30" x2="465.80" y2="737.90" stroke="#444" stroke-width="1.1" stroke-linecap="butt"/>
<line x1="519.30" y1="732.30" x2="519.30" y2="737.90" stroke="#444" stroke-width="1.1" stroke-linecap="butt"/>
<text x="519.30" y="761.10" font-family='"Liberation Sans", sans-serif' font-size="19.6" text-anchor="middle" font-weight="normal" fill="#000" textLength="26.02" lengthAdjust="spacingAndGlyphs">0.2</text>
<line x1="572.80" y1="732.30" x2="572.80" y2="737.90" stroke="#444" stroke-width="1.1" stroke-linecap="butt"/>
<line x1="626.30" y1="732.30" x2="626.30" y2="737.90" stroke="#444" stroke-width="1.1" stroke-linecap="butt"/>
<text x="626.30" y="761.10" font-family='"Liberation Sans", sans-serif' font-size="19.6" text-anchor="middle" font-weight="normal" fill="#000" textLength="26.02" lengthAdjust="spacingAndGlyphs">0.4</text>
<text x="457.90" y="605.50" font-family='"Liberation Sans", sans-serif' font-size="19.4" font-weight="normal" font-style="italic">y</text>
<text x="472.11" y="605.50" font-family='"Liberation Sans", sans-serif' font-size="19.4" font-weight="normal" textLength="175.94" lengthAdjust="spacingAndGlyphs">intercept 0.15 ± 0.03</text>
<rect x="568.06" y="603.25" width="4.39" height="3.05" fill="#fff"/>
<rect x="574.26" y="603.25" width="4.24" height="3.05" fill="#fff"/>
<text x="541.24" y="793.90" font-family='"Liberation Sans", sans-serif' font-size="19.3" font-weight="normal" textLength="108.19" lengthAdjust="spacingAndGlyphs">MSWD = 5.6</text>
<text x="541.51" y="815.80" font-family='"Liberation Sans", sans-serif' font-size="19.3" font-weight="normal" font-style="italic">R</text>
<text x="554.62" y="807.90" font-family='"Liberation Sans", sans-serif' font-size="13.0" font-weight="normal" textLength="7.57" lengthAdjust="spacingAndGlyphs">2</text>
<text x="567.55" y="815.80" font-family='"Liberation Sans", sans-serif' font-size="19.3" font-weight="normal" textLength="54.77" lengthAdjust="spacingAndGlyphs">= 0.91</text>
<rect x="611.90" y="813.56" width="4.43" height="3.04" fill="#fff"/>
<rect x="618.15" y="813.56" width="4.27" height="3.04" fill="#fff"/>
<rect x="136.80" y="867.80" width="11.20" height="11.20" fill="#1756be" stroke="#000" stroke-width="1.6"/>
<text x="159.62" y="880.50" font-family='"Liberation Sans", sans-serif' font-size="19.2" font-weight="normal" textLength="152.62" lengthAdjust="spacingAndGlyphs">Bulk silicate Earth</text>
<circle cx="142.20" cy="918.50" r="6.85" fill="#000" stroke="none" stroke-width="0"/>
<text x="159.61" y="914.00" font-family='"Liberation Sans", sans-serif' font-size="19.2" font-weight="normal" textLength="163.89" lengthAdjust="spacingAndGlyphs">Non-carbonaceous</text>
<text x="159.92" y="936.00" font-family='"Liberation Sans", sans-serif' font-size="19.2" font-weight="normal" textLength="89.98" lengthAdjust="spacingAndGlyphs">meteorites</text>
<circle cx="142.20" cy="966.60" r="5.6" fill="#fff" stroke="#000" stroke-width="2.6"/>
<text x="159.63" y="973.00" font-family='"Liberation Sans", sans-serif' font-size="19.2" font-weight="normal" textLength="157.72" lengthAdjust="spacingAndGlyphs">Meteorite leachate</text>
</svg>
</body></html>
